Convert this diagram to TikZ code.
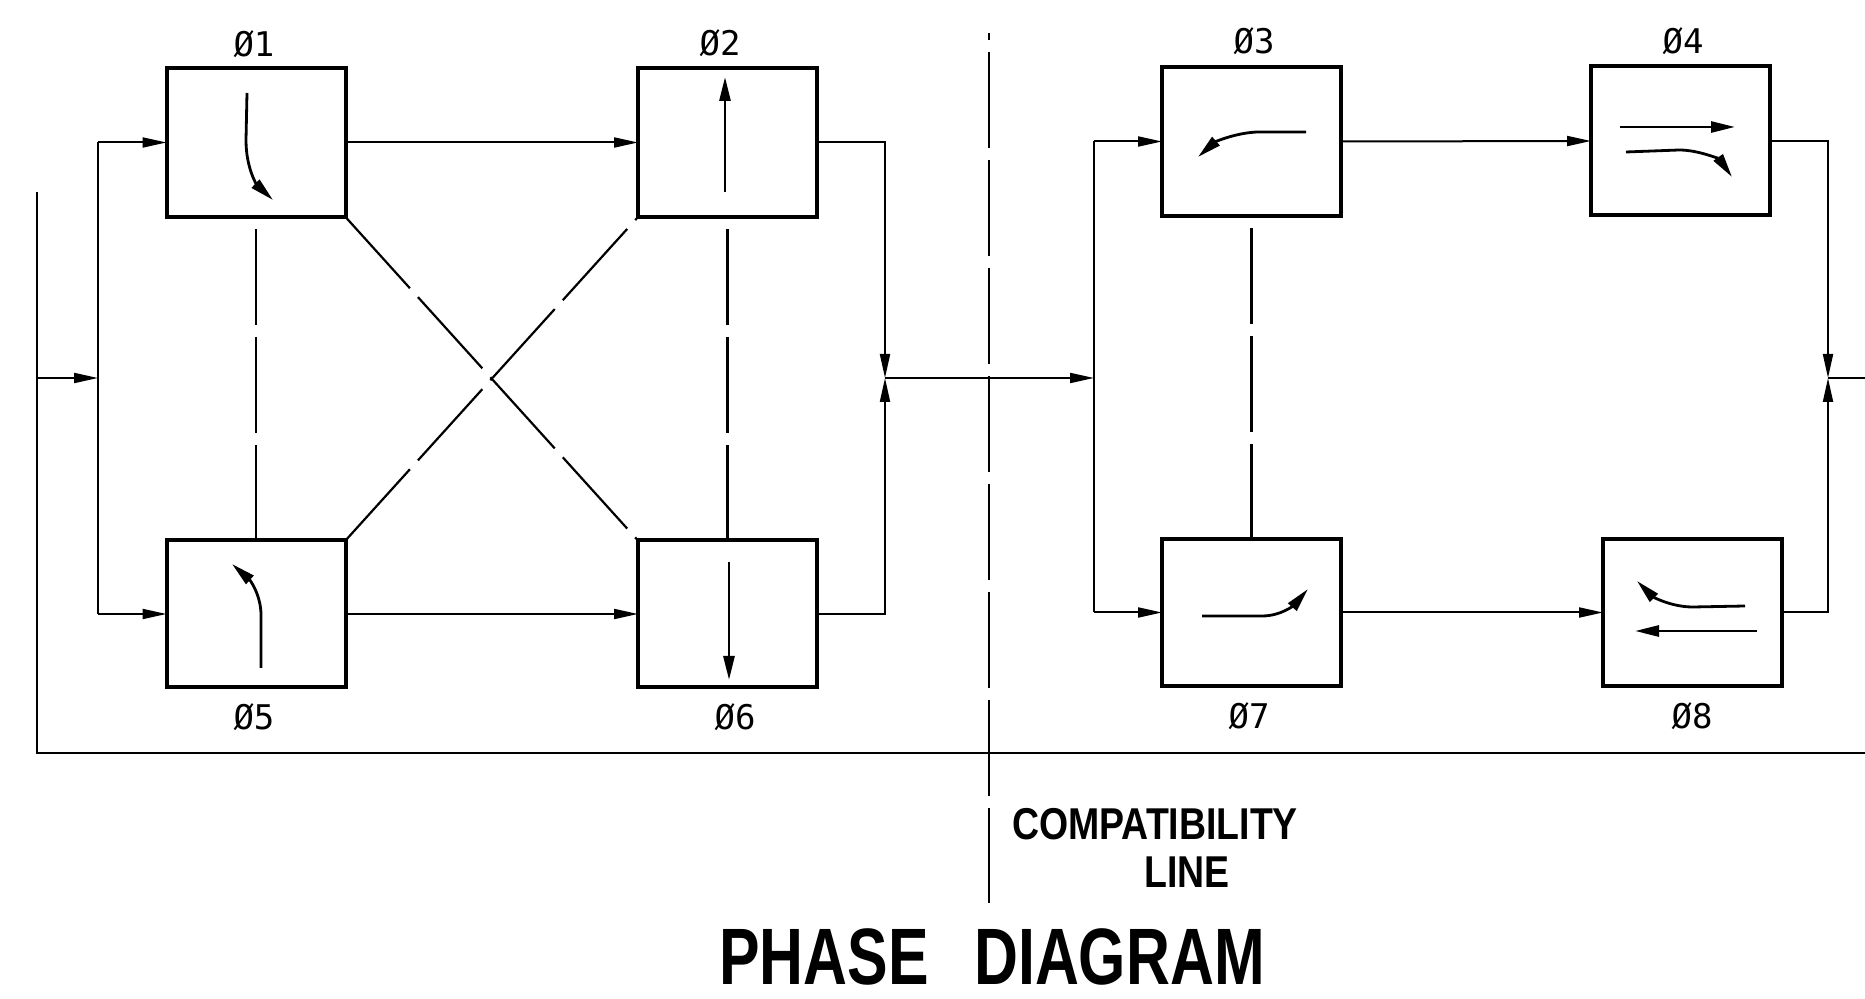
\documentclass[tikz,border=0pt]{standalone}
\usepackage{fontspec}
\usepackage{graphicx}
\usetikzlibrary{arrows.meta}
\newfontfamily\labfont{DejaVu Sans Mono}
\newfontfamily\headfont{Liberation Sans}
\begin{document}
\begin{tikzpicture}[x=0.5pt,y=-0.5pt,
  box/.style={draw, line width=2pt, minimum width=89.5pt, outer sep=0pt, inner sep=0pt},
  topbox/.style={box, minimum height=74.5pt},
  botbox/.style={box, minimum height=73.5pt},
  conn/.style={line width=1pt},
  arr/.style={conn, -{Triangle[length=12pt,width=5pt]}},
  cline/.style={line width=1.1pt, dash pattern=on 48pt off 6pt},
  inarr/.style={line width=1.4pt, -{Triangle[length=12pt,width=5.5pt]}},
  lab/.style={font=\labfont\fontsize{17pt}{20pt}\selectfont, anchor=base, inner sep=0pt},
  head/.style={font=\headfont\bfseries\fontsize{22.3pt}{26pt}\selectfont, anchor=base, inner sep=0pt},
  titlef/.style={font=\headfont\bfseries\fontsize{40pt}{46pt}\selectfont, anchor=base, inner sep=0pt}
]
\useasboundingbox (0,0) rectangle (1865,999);

% boxes
\node[topbox] (b1) at (256,142.5) {};
\node[topbox] (b2) at (727.5,142.5) {};
\node[botbox] (b5) at (256,614) {};
\node[botbox] (b6) at (727.5,614) {};
\node[topbox] (b3) at (1251.5,141.5) {};
\node[topbox] (b4) at (1680.5,141) {};
\node[botbox] (b7) at (1251.5,612.5) {};
\node[botbox] (b8) at (1692.5,612.5) {};

% labels
\node[lab] (l1) at (254,57) {Ø1};
\node[lab] (l2) at (720,56) {Ø2};
\node[lab] (l3) at (1254,54) {Ø3};
\node[lab] (l4) at (1683,54) {Ø4};
\node[lab] (l5) at (254,730) {Ø5};
\node[lab] (l6) at (735,730) {Ø6};
\node[lab] (l7) at (1249,729) {Ø7};
\node[lab] (l8) at (1692,729) {Ø8};

% coordinates
\coordinate (inTop) at (37,192);
\coordinate (in) at (37,378);
\coordinate (botL) at (37,753);
\coordinate (botR) at (1865,753);
\coordinate (bl) at (98,378);
\coordinate (j1) at (885,378);
\coordinate (br) at (1094,378);
\coordinate (j2) at (1828,378);
\coordinate (rEdge) at (1865,378);
\coordinate (ct) at (989,33);
\coordinate (cb) at (989,903);

% outer frame line
\draw[conn] (inTop) -- (botL) -- (botR);
\draw[arr] (in) -- (bl);
\draw[conn] (bl |- b1.west) -- (bl |- b5.west);
\draw[arr] (bl |- b1.west) -- (b1.west);
\draw[arr] (bl |- b5.west) -- (b5.west);
\draw[arr] (b1.east) -- (b2.west);
\draw[arr] (b5.east) -- (b6.west);
\draw[arr] (b2.east) -| (j1);
\draw[arr] (b6.east) -| (j1);
\draw[arr] (j1) -- (br);
\draw[conn] (br |- b3.west) -- (br |- b7.west);
\draw[arr] (br |- b3.west) -- (b3.west);
\draw[arr] (br |- b7.west) -- (b7.west);
\draw[arr] (b3.east) -- (b4.west);
\draw[arr] (b7.east) -- (b8.west);
\draw[arr] (b4.east) -| (j2);
\draw[arr] (b8.east) -| (j2);
\draw[conn] (j2) -- (rEdge);

% center lines
\draw[cline, dash phase=48pt] (b1.south) -- (b5.north);
\draw[cline, dash phase=48pt] (b2.south) -- (b6.north);
\draw[cline, dash phase=48pt] (b3.south) -- (b7.north);
\draw[cline] (b1.south east) -- (b6.north west);
\draw[cline] (b5.north east) -- (b2.south west);
\draw[cline, dash phase=44.5pt] (ct) -- (cb);

% symbols inside boxes
\draw[inarr] (247,93) -- (246,140) .. controls (246,170) and (258,186) .. (273,200);
\draw[inarr] (725,192) -- (725,77);
\draw[inarr] (261,668) -- (261,615) .. controls (261,595) and (250,580) .. (232,564);
\draw[inarr] (729,562) -- (729,680);
\draw[inarr] (1306,132) -- (1257,132) .. controls (1235,133) and (1215,142) .. (1198,157);
\draw[inarr] (1620,127) -- (1735,127);
\draw[inarr] (1626,152) -- (1679,150) .. controls (1700,150) and (1720,160) .. (1732,177);
\draw[inarr] (1202,616) -- (1262,616) .. controls (1282,616) and (1295,604) .. (1308,589);
\draw[inarr] (1745,606) -- (1693,607) .. controls (1670,607) and (1652,596) .. (1637,581);
\draw[inarr] (1757,631) -- (1635,631);

% texts
\node[head] (h1) at (1155,840) {\scalebox{0.84}[1]{COMPATIBILITY}};
\node[head] (h2) at (1187,888) {\scalebox{0.84}[1]{LINE}};
\node[titlef] (t) at (992,985) {\scalebox{0.76}[1]{PHASE\hspace{0.75em}DIAGRAM}};
\end{tikzpicture}
\end{document}
